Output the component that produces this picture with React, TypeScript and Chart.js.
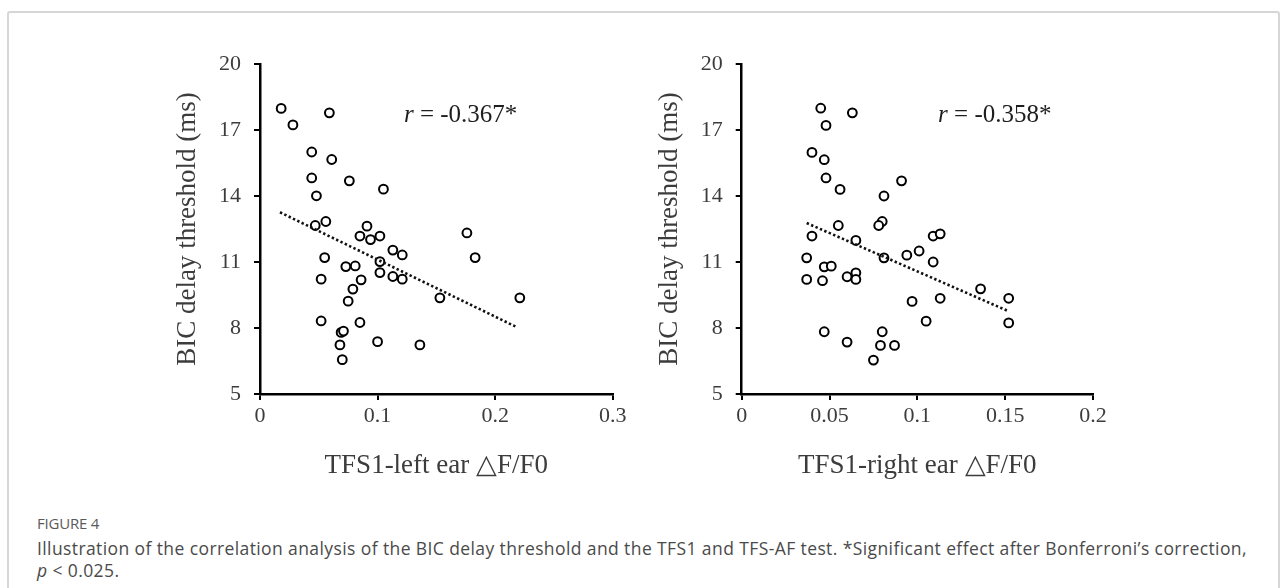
import React, { useEffect, useRef } from "react";
import { Chart, registerables } from "chart.js";

Chart.register(...registerables);

// ---------- data ----------
const yTicks = [5, 8, 11, 14, 17, 20];
const leftXTicks = [0, 0.1, 0.2, 0.3];
const rightXTicks = [0, 0.05, 0.1, 0.15, 0.2];

const leftX = [
  0.018, 0.028, 0.059, 0.044, 0.061, 0.044, 0.076, 0.048, 0.105, 0.047,
  0.056, 0.091, 0.085, 0.094, 0.102, 0.113, 0.121, 0.055, 0.102, 0.073,
  0.081, 0.052, 0.102, 0.113, 0.121, 0.086, 0.079, 0.075, 0.052, 0.085,
  0.069, 0.071, 0.068, 0.100, 0.136, 0.070, 0.176, 0.183, 0.153, 0.221,
];
const leftY = [
  17.98, 17.23, 17.78, 16.0, 15.66, 14.82, 14.69, 14.01, 14.31, 12.66,
  12.84, 12.63, 12.18, 12.02, 12.18, 11.54, 11.32, 11.2, 11.02, 10.79,
  10.82, 10.22, 10.52, 10.34, 10.22, 10.19, 9.77, 9.22, 8.32, 8.25,
  7.8, 7.86, 7.23, 7.38, 7.23, 6.56, 12.32, 11.2, 9.37, 9.37,
];
const rightX = [
  0.045, 0.063, 0.048, 0.040, 0.047, 0.048, 0.091, 0.056, 0.081, 0.080,
  0.078, 0.055, 0.040, 0.109, 0.113, 0.065, 0.037, 0.081, 0.094, 0.101,
  0.109, 0.047, 0.051, 0.037, 0.046, 0.060, 0.065, 0.065, 0.097, 0.113,
  0.105, 0.047, 0.080, 0.060, 0.079, 0.087, 0.075, 0.136, 0.152, 0.152,
];
const rightY = [
  17.99, 17.78, 17.21, 15.98, 15.65, 14.82, 14.69, 14.3, 14.0, 12.84,
  12.66, 12.66, 12.18, 12.18, 12.28, 11.98, 11.19, 11.19, 11.31, 11.5,
  11.0, 10.78, 10.81, 10.21, 10.15, 10.33, 10.51, 10.21, 9.21, 9.35,
  8.31, 7.83, 7.83, 7.36, 7.21, 7.21, 6.54, 9.78, 9.35, 8.23,
];
const leftTrendX = [0.017, 0.218];
const leftTrendY = [13.26, 8.05];
const rightTrendX = [0.037, 0.152];
const rightTrendY = [12.77, 8.76];
const leftR = "-0.367*";
const rightR = "-0.358*";

const yTitle = "BIC delay threshold (ms)";
const leftXTitle = "TFS1-left ear \u25B3F/F0";
const rightXTitle = "TFS1-right ear \u25B3F/F0";

// ---------- styles ----------
const SERIF = '"Liberation Serif", "Times New Roman", serif';
const SANS = '"Open Sans", "Noto Sans", sans-serif';
const TEXT_COLOR = "#3c3c3c";

const rTextPlugin = {
  id: "rText",
  afterDatasetsDraw(chart: any, _args: any, opts: any) {
    if (!opts || !opts.text) return;
    const { ctx, scales } = chart;
    const x = scales.x.getPixelForValue(opts.x);
    const y = scales.y.getPixelForValue(opts.y);
    ctx.save();
    ctx.fillStyle = "#1e1e1e";
    ctx.textBaseline = "middle";
    ctx.textAlign = "left";
    ctx.font = `italic 25px ${SERIF}`;
    ctx.fillText("r", x, y);
    const w = ctx.measureText("r").width;
    ctx.font = `25px ${SERIF}`;
    ctx.fillText(" = " + opts.text, x + w, y);
    ctx.restore();
  },
};

type PanelProps = {
  xs: number[];
  ys: number[];
  tx: number[];
  ty: number[];
  xTicks: number[];
  xTitle: string;
  rText: string;
  rX: number;
  yAxisWidth: number;
  padRight: number;
  yTitlePad: number;
  left: number;
};

function Panel(p: PanelProps) {
  const ref = useRef<HTMLCanvasElement | null>(null);
  useEffect(() => {
    if (!ref.current) return;
    const xMin = p.xTicks[0];
    const xMax = p.xTicks[p.xTicks.length - 1];
    const chart = new Chart(ref.current, {
      type: "scatter",
      data: {
        datasets: [
          {
            data: p.tx.map((x, i) => ({ x, y: p.ty[i] })),
            showLine: true,
            pointRadius: 0,
            borderColor: "#111",
            borderWidth: 2.6,
            borderDash: [2.4, 2.4],
            order: 0,
          } as any,
          {
            data: p.xs.map((x, i) => ({ x, y: p.ys[i] })),
            pointRadius: 4.4,
            pointBorderWidth: 2,
            pointBorderColor: "#000",
            pointBackgroundColor: "#fff",
            showLine: false,
            order: 1,
          } as any,
        ],
      },
      options: {
        animation: false,
        responsive: false,
        devicePixelRatio: 1,
        layout: { padding: { left: 0, top: 20, right: p.padRight, bottom: 0 } },
        plugins: {
          legend: { display: false },
          tooltip: { enabled: false },
          rText: { text: p.rText, x: p.rX, y: 17.65 },
        } as any,
        scales: {
          x: {
            type: "linear",
            min: xMin,
            max: xMax,
            afterBuildTicks: (s: any) => {
              s.ticks = p.xTicks.map((v) => ({ value: v }));
            },
            afterFit: (s: any) => {
              s.height = 106;
            },
            grid: {
              drawOnChartArea: false,
              drawTicks: true,
              tickLength: 6,
              color: "#000",
              lineWidth: 2,
            },
            border: { display: true, color: "#000", width: 2.5 },
            ticks: {
              padding: 5,
              color: TEXT_COLOR,
              font: { family: SERIF, size: 22, lineHeight: 1 },
              callback: (v: any) => String(v),
              maxRotation: 0,
            },
            title: {
              display: true,
              text: p.xTitle,
              color: TEXT_COLOR,
              font: { family: SERIF, size: 27, lineHeight: 1 },
              padding: { top: 0, bottom: 20.5 },
            },
          },
          y: {
            type: "linear",
            min: 5,
            max: 20,
            afterBuildTicks: (s: any) => {
              s.ticks = yTicks.map((v) => ({ value: v }));
            },
            afterFit: (s: any) => {
              s.width = p.yAxisWidth;
            },
            grid: {
              drawOnChartArea: false,
              drawTicks: true,
              tickLength: 6,
              color: "#000",
              lineWidth: 2,
            },
            border: { display: true, color: "#000", width: 2.5 },
            ticks: {
              padding: 13,
              color: TEXT_COLOR,
              font: { family: SERIF, size: 22, lineHeight: 1 },
              callback: (v: any) => String(v),
            },
            title: {
              display: true,
              text: yTitle,
              color: TEXT_COLOR,
              font: { family: SERIF, size: 27, lineHeight: 1 },
              padding: { top: p.yTitlePad, bottom: 0 },
            },
          },
        },
      } as any,
      plugins: [rTextPlugin as any],
    });
    return () => chart.destroy();
  }, []);
  return (
    <canvas
      ref={ref}
      width={500}
      height={460}
      style={{ position: "absolute", left: p.left, top: 40, width: 500, height: 460 }}
    />
  );
}

export default function App() {
  return (
    <div
      style={{
        position: "absolute",
        left: 0,
        top: 0,
        width: 1288,
        height: 588,
        overflow: "hidden",
        background: "#fff",
      }}
    >
      <div
        style={{
          position: "absolute",
          left: 7,
          top: 11,
          width: 1273,
          height: 640,
          border: "2px solid #d6d6d6",
          borderRadius: 3,
          boxSizing: "border-box",
        }}
      />
      <Panel
        xs={leftX}
        ys={leftY}
        tx={leftTrendX}
        ty={leftTrendY}
        xTicks={leftXTicks}
        xTitle={leftXTitle}
        rText={leftR}
        rX={0.1224}
        yAxisWidth={120}
        padRight={27.3}
        yTitlePad={34.5}
        left={140}
      />
      <Panel
        xs={rightX}
        ys={rightY}
        tx={rightTrendX}
        ty={rightTrendY}
        xTicks={rightXTicks}
        xTitle={rightXTitle}
        rText={rightR}
        rX={0.1118}
        yAxisWidth={101.7}
        padRight={47}
        yTitlePad={16.5}
        left={640}
      />
      <div
        style={{
          position: "absolute",
          left: 37,
          top: 513,
          fontFamily: SANS,
          fontSize: 15,
          color: "#5a5a5a",
          whiteSpace: "nowrap",
          letterSpacing: -0.2,
        }}
      >
        FIGURE 4
      </div>
      <div
        style={{
          position: "absolute",
          left: 37,
          top: 537,
          fontFamily: SANS,
          fontSize: 17.5,
          letterSpacing: 0.4,
          lineHeight: "22px",
          color: "#4a4a4a",
          whiteSpace: "nowrap",
        }}
      >
        Illustration of the correlation analysis of the BIC delay threshold and the TFS1 and TFS-AF test. *Significant effect after Bonferroni’s correction,
        <br />
        <i>p</i> &lt; 0.025.
      </div>
    </div>
  );
}
